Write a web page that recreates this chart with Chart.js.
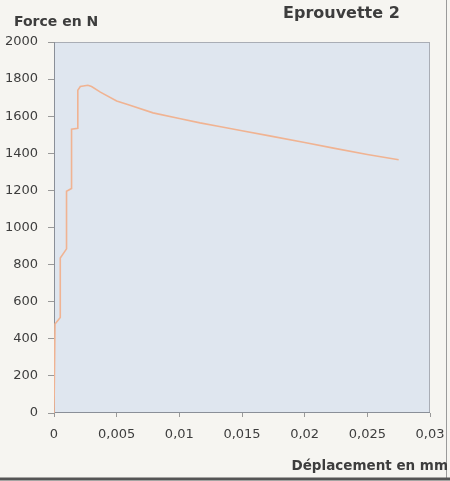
<!DOCTYPE html>
<html>
<head>
<meta charset="utf-8">
<script src="https://cdn.jsdelivr.net/npm/chart.js@4/dist/chart.umd.min.js"></script>
<style>
  html, body { margin: 0; padding: 0; background: #f6f5f1; }
  #wrap { width: 450px; height: 481px; position: relative; }
</style>
</head>
<body>
<div id="wrap"><canvas id="c" width="450" height="481"></canvas></div>
<script>
const chartTitle = 'Eprouvette 2';
const yAxisTitle = 'Force en N';
const xAxisTitle = 'Déplacement en mm';
const displacement = [0, 0.00008, 0.0005, 0.0005, 0.001, 0.001, 0.0014, 0.0014, 0.0019, 0.0019, 0.0021, 0.0027, 0.003, 0.0037, 0.005, 0.006, 0.0079, 0.010, 0.01165, 0.0132, 0.015, 0.0172, 0.020, 0.0223, 0.025, 0.0275];
const force =        [0, 480,     515,    835,    885,   1195,  1210,   1530,   1535,   1740,   1760,   1767,   1760,  1730,   1682,  1660,  1618,   1588,  1564,    1544,   1522,  1494,   1458,  1428,   1394,  1365];
const xTickLabels = ['0', '0,005', '0,01', '0,015', '0,02', '0,025', '0,03'];
const yTickLabels = ['0', '200', '400', '600', '800', '1000', '1200', '1400', '1600', '1800', '2000'];

const points = displacement.map((x, i) => ({ x: x, y: force[i] }));
const FONT = '"DejaVu Sans", Verdana, sans-serif';

const decor = {
  id: 'decor',
  beforeDraw(chart) {
    const ctx = chart.ctx, a = chart.chartArea;
    ctx.save();
    ctx.fillStyle = '#f6f5f1';
    ctx.fillRect(0, 0, chart.width, chart.height);
    ctx.fillStyle = '#dfe6ef';
    ctx.fillRect(a.left, a.top, a.right - a.left, a.bottom - a.top);
    ctx.strokeStyle = '#a9adb5';
    ctx.lineWidth = 1;
    ctx.strokeRect(a.left + 0.5, a.top + 0.5, a.right - a.left - 1, a.bottom - a.top - 1);
    ctx.strokeStyle = '#8a8f98';
    ctx.beginPath();
    ctx.moveTo(a.left + 0.5, a.top); ctx.lineTo(a.left + 0.5, a.bottom - 0.5); ctx.lineTo(a.right, a.bottom - 0.5);
    ctx.stroke();
    // outer frame
    ctx.strokeStyle = '#9a9a9a';
    ctx.beginPath(); ctx.moveTo(446.5, 0); ctx.lineTo(446.5, 478); ctx.stroke();
    ctx.strokeStyle = '#555';
    ctx.lineWidth = 3;
    ctx.beginPath(); ctx.moveTo(0, 479); ctx.lineTo(450, 479); ctx.stroke();
    ctx.restore();
  },
  afterDraw(chart) {
    const ctx = chart.ctx;
    ctx.save();
    ctx.fillStyle = '#3d3d3d';
    ctx.textBaseline = 'middle';
    ctx.font = 'bold 16px ' + FONT;
    ctx.textAlign = 'left';
    ctx.fillText(chartTitle, 283, 14);
    ctx.font = 'bold 14px ' + FONT;
    ctx.fillText(yAxisTitle, 14, 22);
    ctx.textAlign = 'right';
    ctx.font = 'bold 13.5px ' + FONT;
    ctx.fillText(xAxisTitle, 448, 466);
    ctx.restore();
  }
};

new Chart(document.getElementById('c'), {
  type: 'scatter',
  data: {
    datasets: [{
      data: points,
      showLine: true,
      borderColor: '#f0b392',
      borderWidth: 1.6,
      pointRadius: 0,
      tension: 0
    }]
  },
  options: {
    responsive: false,
    animation: false,
    devicePixelRatio: 1,
    layout: { padding: { top: 42, right: 20, left: 0, bottom: 0 } },
    plugins: { legend: { display: false }, tooltip: { enabled: false } },
    scales: {
      x: {
        type: 'linear', min: 0, max: 0.03,
        afterFit(s) { s.height = 68; s.paddingRight = 0; s.paddingLeft = 0; },
        ticks: {
          stepSize: 0.005, color: '#3d3d3d',
          font: { family: FONT, size: 13 },
          padding: 10,
          callback: (v, i) => xTickLabels[i]
        },
        grid: { drawOnChartArea: false, drawTicks: true, tickLength: 4, color: '#999' },
        border: { display: false }
      },
      y: {
        type: 'linear', min: 0, max: 2000,
        afterFit(s) { s.width = 54; s.paddingTop = 0; s.paddingBottom = 0; },
        ticks: {
          stepSize: 200, color: '#3d3d3d',
          font: { family: FONT, size: 13 },
          padding: 10,
          callback: (v, i) => yTickLabels[i]
        },
        grid: { drawOnChartArea: false, drawTicks: true, tickLength: 6, color: '#999' },
        border: { display: false }
      }
    }
  },
  plugins: [decor]
});
</script>
</body>
</html>
